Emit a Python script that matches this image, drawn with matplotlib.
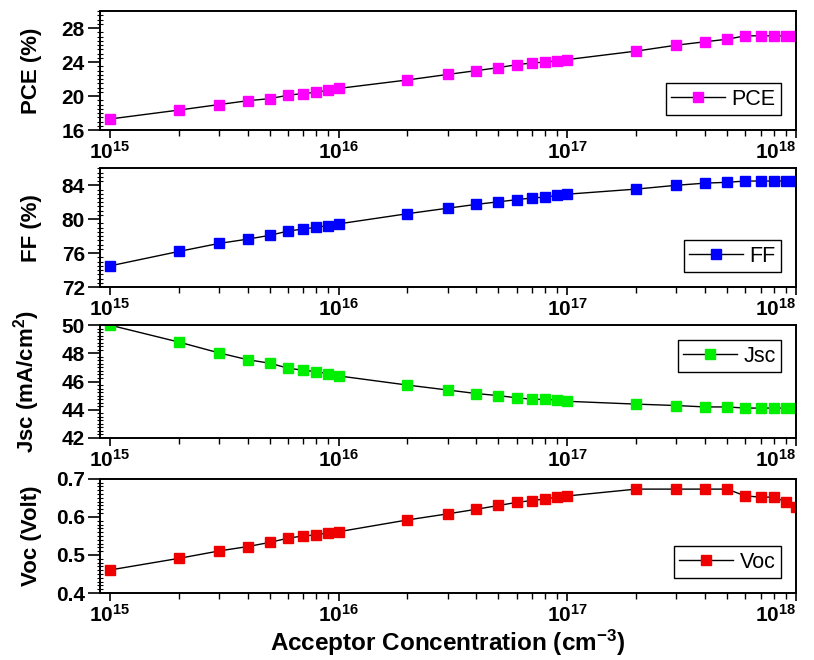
import numpy as np
import matplotlib
matplotlib.use('Agg')
import matplotlib.pyplot as plt
import matplotlib.transforms as mtransforms
from matplotlib.ticker import FixedLocator, MultipleLocator, LogLocator, NullFormatter

plt.rcParams['font.family'] = ['Liberation Sans', 'DejaVu Sans']
plt.rcParams['mathtext.fontset'] = 'custom'
plt.rcParams['mathtext.rm'] = 'Liberation Sans:bold'
plt.rcParams['mathtext.bf'] = 'Liberation Sans:bold'
plt.rcParams['mathtext.default'] = 'bf'

# acceptor concentration (cm^-3)
conc = [1e15, 2e15, 3e15, 4e15, 5e15, 6e15, 7e15, 8e15, 9e15,
        1e16, 2e16, 3e16, 4e16, 5e16, 6e16, 7e16, 8e16, 9e16,
        1e17, 2e17, 3e17, 4e17, 5e17, 6e17, 7e17, 8e17, 9e17, 1e18]

pce = [17.3, 18.35, 19.0, 19.45, 19.7, 20.1, 20.3, 20.45, 20.7,
       20.9, 21.9, 22.55, 23.0, 23.35, 23.7, 23.9, 24.0, 24.15,
       24.3, 25.3, 26.0, 26.4, 26.7, 27.1, 27.1, 27.1, 27.1, 27.1]

ff = [74.5, 76.2, 77.15, 77.65, 78.1, 78.6, 78.85, 79.05, 79.25,
      79.45, 80.65, 81.3, 81.75, 82.05, 82.3, 82.5, 82.6, 82.8,
      82.95, 83.55, 84.0, 84.25, 84.35, 84.5, 84.5, 84.5, 84.5, 84.5]

jsc = [50.0, 48.8, 48.03, 47.55, 47.3, 46.95, 46.8, 46.7, 46.55,
       46.4, 45.75, 45.4, 45.15, 45.0, 44.85, 44.75, 44.73, 44.7,
       44.6, 44.4, 44.3, 44.2, 44.2, 44.12, 44.12, 44.12, 44.12, 44.12]

voc = [0.4605, 0.491, 0.5105, 0.522, 0.533, 0.544, 0.55, 0.5526, 0.5587,
       0.561, 0.592, 0.608, 0.62, 0.63, 0.638, 0.643, 0.647, 0.652,
       0.655, 0.673, 0.673, 0.673, 0.673, 0.655, 0.652, 0.652, 0.640, 0.627]

panels = [
    # data, name, color, ylabel, ylim, yticks, minor step, legend loc
    (pce, 'PCE', '#ff00ff', 'PCE (%)', (16, 30), [16, 20, 24, 28], 0.5, 'lower right'),
    (ff, 'FF', '#0000ff', 'FF (%)', (72, 86), [72, 76, 80, 84], 0.5, 'lower right'),
    (jsc, 'Jsc', '#00ee00', r'Jsc (mA/cm$^{2}$)', (42, 50), [42, 44, 46, 48, 50], 0.25, 'upper right'),
    (voc, 'Voc', '#ee0000', 'Voc (Volt)', (0.4, 0.7), [0.4, 0.5, 0.6, 0.7], 0.01, 'lower right'),
]

# axes boxes in figure fraction (left, bottom, width, height)
boxes = [
    (0.1229, 0.803, 0.855, 0.180),
    (0.1229, 0.565, 0.855, 0.180),
    (0.1229, 0.3364, 0.855, 0.171),
    (0.1229, 0.1015, 0.855, 0.173),
]

xmajor = [1e15, 1e16, 1e17, 1e18]
xlabels = [r'$10^{15}$', r'$10^{16}$', r'$10^{17}$', r'$10^{18}$']

fig = plt.figure(figsize=(8.14, 6.6), dpi=100)

for (vals, name, color, ylab, ylim, yticks, mstep, loc), box in zip(panels, boxes):
    ax = fig.add_axes(box)
    ax.plot(conc, vals, '-', color='black', lw=1.0, marker='s', ms=6.5,
            mfc=color, mec=color, label=name)
    ax.set_xscale('log')
    ax.set_xlim(9.05e14, 1.0e18)
    ax.set_ylim(*ylim)
    ax.xaxis.set_major_locator(FixedLocator(xmajor))
    ax.set_xticklabels(xlabels)
    # keep the last label inside the figure
    last = ax.get_xticklabels()[-1]
    last.set_horizontalalignment('right')
    last.set_transform(last.get_transform() +
                       mtransforms.ScaledTranslation(0.1, 0, fig.dpi_scale_trans))
    ax.xaxis.set_minor_locator(LogLocator(base=10, subs=np.arange(2, 10), numticks=20))
    ax.xaxis.set_minor_formatter(NullFormatter())
    ax.set_yticks(yticks)
    if ylab == 'Voc (Volt)':
        ax.set_yticklabels(['0.4', '0.5', '0.6', '0.7'])
    ax.yaxis.set_minor_locator(MultipleLocator(mstep))
    ax.tick_params(axis='x', which='major', direction='out', length=6, width=1.2,
                   labelsize=15, pad=2)
    ax.tick_params(axis='x', which='minor', direction='out', length=4, width=1.0)
    ax.tick_params(axis='y', which='major', direction='out', length=9, width=1.2,
                   labelsize=15, pad=2)
    ax.tick_params(axis='y', which='minor', direction='inout', length=5, width=0.8)
    for lbl in ax.get_yticklabels():
        lbl.set_fontweight('bold')
    for sp in ax.spines.values():
        sp.set_linewidth(1.4)
    ax.set_ylabel(ylab, fontsize=16, fontweight='bold')
    ax.yaxis.set_label_coords(-0.084, 0.5)
    leg = ax.legend(loc=loc, fontsize=15.5, numpoints=1, handlelength=2.5,
                    handletextpad=0.3, borderpad=0.25, borderaxespad=0.7,
                    fancybox=False, framealpha=1, edgecolor='black')
    leg.get_frame().set_linewidth(1.0)

ax.set_xlabel(r'Acceptor Concentration (cm$^{-3}$)', fontsize=17.5, fontweight='bold', labelpad=1)

fig.savefig('out.png', dpi=100)
